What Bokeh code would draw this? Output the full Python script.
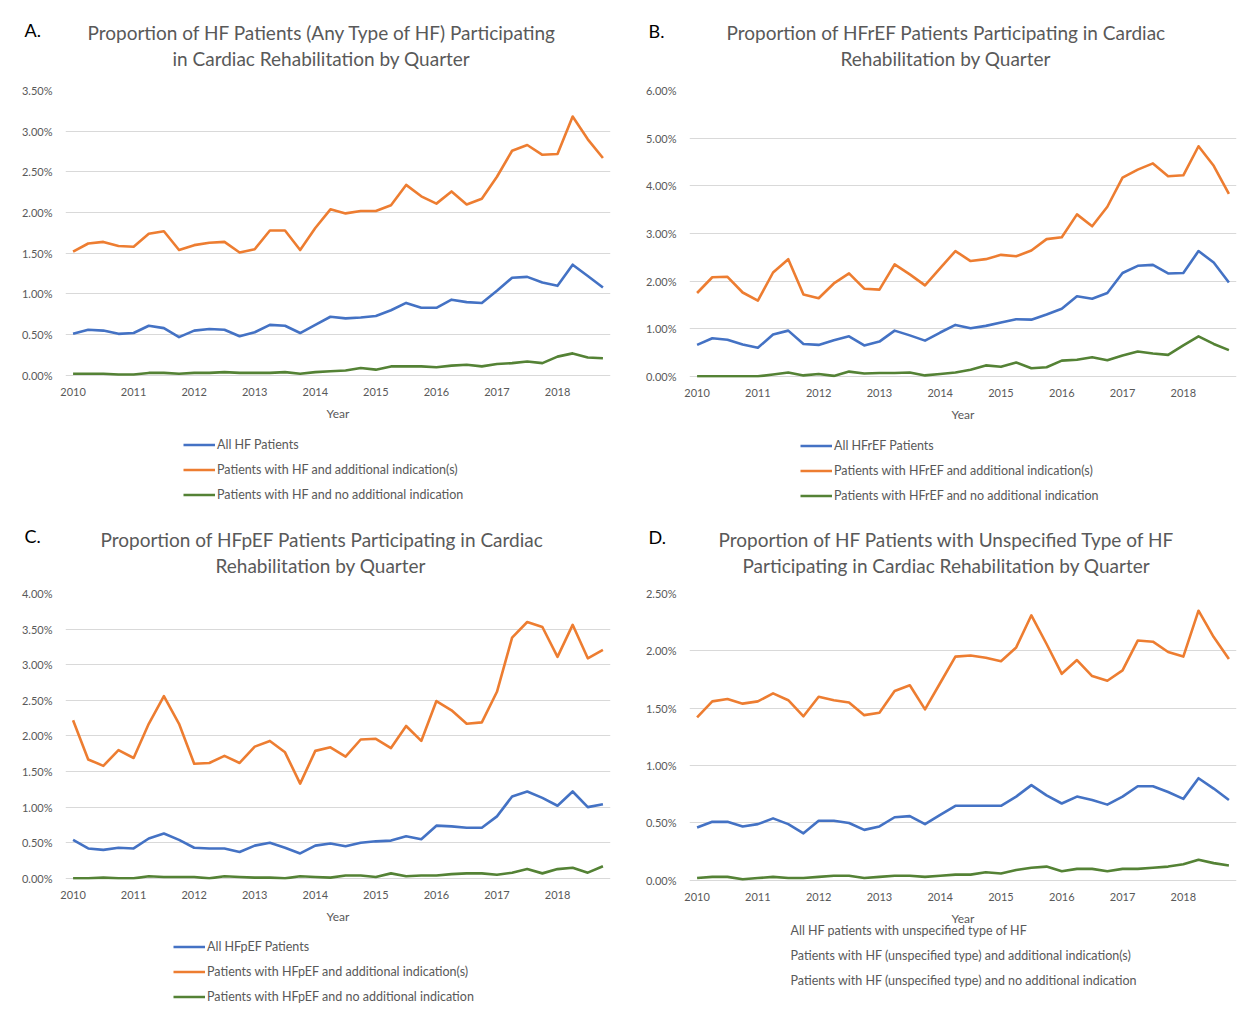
from bokeh.plotting import figure
from bokeh.models import (Range1d, FixedTicker, PrintfTickFormatter, Legend,
                          LegendItem, Title)
from bokeh.layouts import gridplot
from bokeh.embed import file_html
from bokeh.resources import INLINE

# ---------------- data ----------------
years = list(range(2010, 2019))
quarters = [f"{y} Q{q}" for y in years for q in range(1, 5)]
year_ticks = years

# Panel A: any type of HF
a_all = [0.51, 0.56, 0.55, 0.51, 0.52, 0.61, 0.58, 0.47, 0.55, 0.57, 0.56, 0.48,
         0.53, 0.62, 0.61, 0.52, 0.62, 0.72, 0.70, 0.71, 0.73, 0.80, 0.89, 0.83,
         0.83, 0.93, 0.90, 0.89, 1.04, 1.20, 1.21, 1.14, 1.10, 1.36, 1.22, 1.08]
a_add = [1.52, 1.62, 1.64, 1.59, 1.58, 1.74, 1.77, 1.54, 1.60, 1.63, 1.64, 1.51,
         1.55, 1.78, 1.78, 1.54, 1.81, 2.04, 1.99, 2.02, 2.02, 2.09, 2.34, 2.20,
         2.11, 2.26, 2.10, 2.17, 2.44, 2.76, 2.83, 2.71, 2.72, 3.18, 2.90, 2.67]
a_none = [0.02, 0.02, 0.02, 0.01, 0.01, 0.03, 0.03, 0.02, 0.03, 0.03, 0.04, 0.03,
          0.03, 0.03, 0.04, 0.02, 0.04, 0.05, 0.06, 0.09, 0.07, 0.11, 0.11, 0.11,
          0.10, 0.12, 0.13, 0.11, 0.14, 0.15, 0.17, 0.15, 0.23, 0.27, 0.22, 0.21]

# Panel B: HFrEF
b_all = [0.66, 0.80, 0.77, 0.67, 0.60, 0.88, 0.96, 0.68, 0.66, 0.76, 0.84, 0.65,
         0.73, 0.96, 0.86, 0.75, 0.92, 1.08, 1.01, 1.06, 1.13, 1.20, 1.19, 1.30,
         1.42, 1.68, 1.63, 1.75, 2.17, 2.32, 2.34, 2.16, 2.17, 2.63, 2.39, 1.97]
b_add = [1.75, 2.08, 2.09, 1.76, 1.59, 2.18, 2.46, 1.72, 1.64, 1.95, 2.16, 1.84,
         1.82, 2.35, 2.14, 1.91, 2.27, 2.63, 2.42, 2.46, 2.55, 2.52, 2.64, 2.88,
         2.92, 3.40, 3.15, 3.56, 4.17, 4.34, 4.47, 4.20, 4.22, 4.83, 4.42, 3.83]
b_none = [0.00, 0.00, 0.00, 0.00, 0.00, 0.04, 0.08, 0.02, 0.05, 0.01, 0.10, 0.06,
          0.07, 0.07, 0.08, 0.02, 0.05, 0.08, 0.14, 0.23, 0.20, 0.29, 0.17, 0.19,
          0.33, 0.35, 0.40, 0.34, 0.44, 0.52, 0.48, 0.45, 0.65, 0.84, 0.68, 0.55]

# Panel C: HFpEF
c_all = [0.54, 0.42, 0.40, 0.43, 0.42, 0.56, 0.63, 0.54, 0.43, 0.42, 0.42, 0.37,
         0.46, 0.50, 0.43, 0.35, 0.46, 0.49, 0.45, 0.50, 0.52, 0.53, 0.59, 0.55,
         0.74, 0.73, 0.71, 0.71, 0.87, 1.15, 1.22, 1.13, 1.02, 1.22, 1.00, 1.04]
c_add = [2.22, 1.67, 1.58, 1.80, 1.69, 2.17, 2.56, 2.17, 1.61, 1.62, 1.72, 1.62,
         1.85, 1.93, 1.77, 1.33, 1.79, 1.84, 1.71, 1.95, 1.96, 1.83, 2.14, 1.93,
         2.49, 2.36, 2.17, 2.19, 2.62, 3.38, 3.60, 3.53, 3.11, 3.56, 3.09, 3.21]
c_none = [0.00, 0.00, 0.01, 0.00, 0.00, 0.03, 0.02, 0.02, 0.02, 0.00, 0.03, 0.02,
          0.01, 0.01, 0.00, 0.03, 0.02, 0.01, 0.04, 0.04, 0.02, 0.07, 0.03, 0.04,
          0.04, 0.06, 0.07, 0.07, 0.05, 0.08, 0.13, 0.07, 0.13, 0.15, 0.08, 0.17]

# Panel D: unspecified type of HF
d_all = [0.46, 0.51, 0.51, 0.47, 0.49, 0.54, 0.49, 0.41, 0.52, 0.52, 0.50, 0.44,
         0.47, 0.55, 0.56, 0.49, 0.57, 0.65, 0.65, 0.65, 0.65, 0.73, 0.83, 0.74,
         0.67, 0.73, 0.70, 0.66, 0.73, 0.82, 0.82, 0.77, 0.71, 0.89, 0.80, 0.70]
d_add = [1.42, 1.56, 1.58, 1.54, 1.56, 1.63, 1.57, 1.43, 1.60, 1.57, 1.55, 1.44,
         1.46, 1.65, 1.70, 1.49, 1.72, 1.95, 1.96, 1.94, 1.91, 2.03, 2.31, 2.06,
         1.80, 1.92, 1.78, 1.74, 1.83, 2.09, 2.08, 1.99, 1.95, 2.35, 2.12, 1.93]
d_none = [0.02, 0.03, 0.03, 0.01, 0.02, 0.03, 0.02, 0.02, 0.03, 0.04, 0.04, 0.02,
          0.03, 0.04, 0.04, 0.03, 0.04, 0.05, 0.05, 0.07, 0.06, 0.09, 0.11, 0.12,
          0.08, 0.10, 0.10, 0.08, 0.10, 0.10, 0.11, 0.12, 0.14, 0.18, 0.15, 0.13]

title_lines = [
    ("Proportion of HF Patients (Any Type of HF) Participating",
     "in Cardiac Rehabilitation by Quarter"),
    ("Proportion of HFrEF Patients Participating in Cardiac",
     "Rehabilitation by Quarter"),
    ("Proportion of HFpEF Patients Participating in Cardiac",
     "Rehabilitation by Quarter"),
    ("Proportion of HF Patients with Unspecified Type of HF",
     "Participating in Cardiac Rehabilitation by Quarter"),
]
letters = ["A.", "B.", "C.", "D."]
legend_labels = [
    ["All HF Patients", "Patients with HF and additional indication(s)",
     "Patients with HF and no additional indication"],
    ["All HFrEF Patients", "Patients with HFrEF and additional indication(s)",
     "Patients with HFrEF and no additional indication"],
    ["All HFpEF Patients", "Patients with HFpEF and additional indication(s)",
     "Patients with HFpEF and no additional indication"],
    ["All HF patients with unspecified type of HF",
     "Patients with HF (unspecified type) and additional indication(s)",
     "Patients with HF (unspecified type) and no additional indication"],
]
y_max = [3.5, 6.0, 4.0, 2.5]
y_step = [0.5, 1.0, 0.5, 0.5]
series = [(a_all, a_add, a_none), (b_all, b_add, b_none),
          (c_all, c_add, c_none), (d_all, d_add, d_none)]

# ---------------- style ----------------
FONT = "Lato"
GRAY = "#595959"
COLORS = ["#4472C4", "#ED7D31", "#548235"]

# per panel: border left, frame w, border right, border top, frame h, border bottom,
#            title line offsets, title standoffs (line2, line1, letter),
#            legend position, separate legend text (long labels)
layout = [
    (65, 545, 20, 90, 286, 132, (22, 107), (42, -40, -35), (118, -4), False),
    (59, 547, 8, 89, 287, 132, (37, 151), (42, -40, -37), (111, -4), False),
    (65, 545, 20, 85, 286, 129, (35, 150), (34, -32, -25), (108, -4), False),
    (59, 547, 8, 83, 288, 129, (29, 53), (34, -32, -27), (68, -4), True),
]
# standoffs that put the separate legend texts on the three legend rows
row_standoffs = [-18, -68, -118]

x_vals = [years[0] + i / 4 for i in range(len(quarters))]


def make_panel(k):
    bl, fw, br, bt, fh, bb, (o1, o2), (s2, s1, sl), leg_loc, split = layout[k]
    ymax = y_max[k]
    p = figure(frame_width=fw, frame_height=fh,
               output_backend="svg", toolbar_location=None,
               x_range=Range1d(years[0] - 0.125, years[-1] + 0.875),
               y_range=Range1d(-ymax * 0.004, ymax),
               min_border_left=bl, min_border_right=br,
               min_border_top=bt, min_border_bottom=bb)
    p.outline_line_color = None
    p.background_fill_color = "white"
    p.border_fill_color = "white"

    line1, line2 = title_lines[k]
    p.add_layout(Title(text=line2, align="left", text_font=FONT,
                       text_font_size="19px", text_font_style="normal",
                       text_color=GRAY, offset=o2, standoff=s2), "above")
    p.add_layout(Title(text=line1, align="left", text_font=FONT,
                       text_font_size="19px", text_font_style="normal",
                       text_color=GRAY, offset=o1, standoff=s1), "above")
    p.add_layout(Title(text=letters[k], align="left", vertical_align="bottom",
                       text_font=FONT, text_font_size="18px",
                       text_font_style="normal", text_color="black",
                       offset=-41, standoff=sl), "above")

    n_ticks = int(round(ymax / y_step[k])) + 1
    p.yaxis.ticker = FixedTicker(ticks=[i * y_step[k] for i in range(n_ticks)])
    p.yaxis.formatter = PrintfTickFormatter(format="%.2f%%")
    p.xaxis.ticker = FixedTicker(ticks=year_ticks)
    p.xaxis.formatter = PrintfTickFormatter(format="%d")
    for ax in (p.xaxis[0], p.yaxis[0]):
        ax.axis_line_color = None
        ax.major_tick_line_color = None
        ax.minor_tick_line_color = None
        ax.major_label_text_font = FONT
        ax.major_label_text_font_size = "11px"
        ax.major_label_text_color = GRAY
    p.yaxis.major_label_standoff = 7
    p.xaxis.major_label_standoff = 5
    p.xaxis.axis_label = "Year"
    p.xaxis.axis_label_text_font = FONT
    p.xaxis.axis_label_text_font_size = "12px"
    p.xaxis.axis_label_text_font_style = "normal"
    p.xaxis.axis_label_text_color = GRAY
    p.xaxis.axis_label_standoff = 7
    p.xgrid.grid_line_color = None
    p.ygrid.grid_line_color = "#D9D9D9"
    p.ygrid.grid_line_width = 1

    if split:
        # legend texts as zero-height side titles placed on the legend rows
        for lab, so in zip(legend_labels[k], row_standoffs):
            p.add_layout(Title(text=lab, align="left", vertical_align="bottom",
                               text_font=FONT, text_font_size="12.5px",
                               text_font_style="normal", text_color=GRAY,
                               offset=leg_loc[0] + 33, standoff=so), "below")

    items = []
    for s, col, lab in zip(series[k], COLORS, legend_labels[k]):
        r = p.line(x_vals, s, line_color=col, line_width=2.6, line_join="round")
        items.append(LegendItem(label=" " if split else lab, renderers=[r]))

    leg = Legend(items=items, location=leg_loc, orientation="vertical",
                 ncols=1, border_line_color=None, background_fill_alpha=0,
                 label_text_font=FONT, label_text_font_size="12.5px",
                 label_text_color=GRAY, glyph_width=32, glyph_height=15,
                 label_height=15, label_standoff=2, spacing=10, padding=0,
                 margin=0)
    p.add_layout(leg, "below")
    return p


panels = [make_panel(k) for k in range(4)]
grid = gridplot([[panels[0], panels[1]], [panels[2], panels[3]]],
                toolbar_location=None)

open("out.html", "w").write(file_html(grid, INLINE))
